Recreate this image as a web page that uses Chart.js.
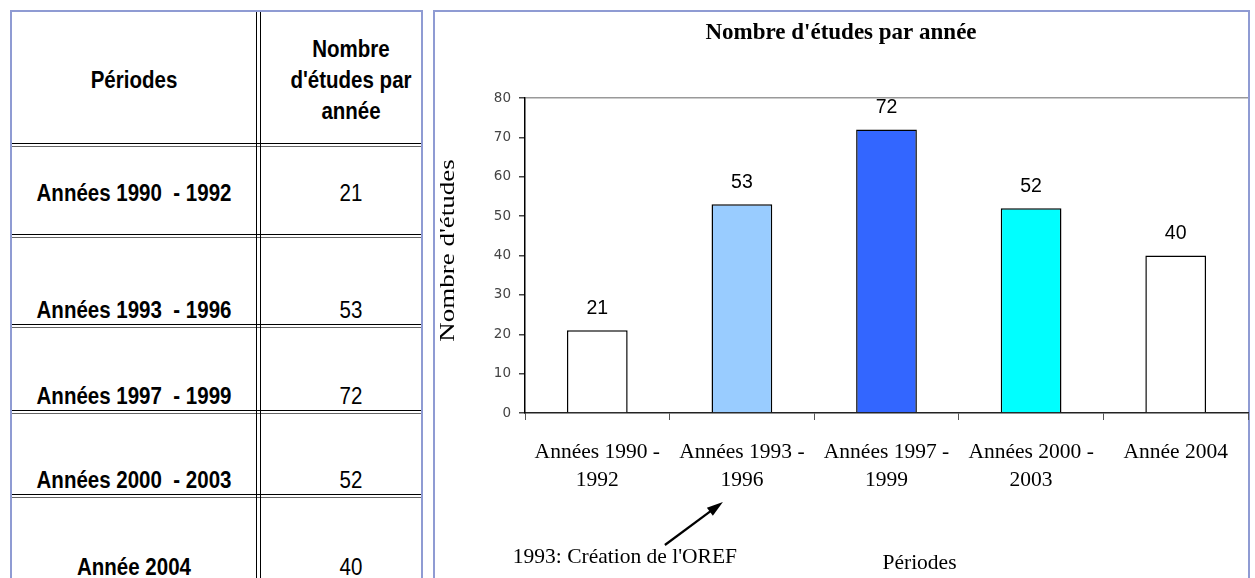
<!DOCTYPE html>
<html>
<head>
<meta charset="utf-8">
<script src="https://cdn.jsdelivr.net/npm/chart.js@4.4.0/dist/chart.umd.min.js"></script>
<style>
    html, body { margin: 0; padding: 0; background: #fff; width: 1255px; height: 578px; overflow: hidden; }
    .panel { position: absolute; box-sizing: border-box; border: 2px solid #8f9bd3; border-bottom: none; }
    #left { left: 10px; top: 10px; width: 413px; height: 580px; }
    #right { left: 433px; top: 10px; width: 817px; height: 580px; }
    .hsep { position: absolute; left: 12px; width: 409px; height: 4px; box-sizing: border-box;
            border-top: 1px solid #000; border-bottom: 1px solid #666; }
    .vsep { position: absolute; left: 256px; top: 12px; width: 5px; height: 570px; box-sizing: border-box;
            border-left: 1px solid #000; border-right: 1px solid #000; }
    .cell { position: absolute; text-align: center; color: #000; white-space: pre;
            font-family: "Liberation Sans", Arial, sans-serif;
            font-size: 20.5px; line-height: 24px; transform: scaleY(1.14); }
    .lab { left: 12px; width: 244px; font-weight: bold; }
    .val { left: 261px; width: 180px; }
    #chartBox { position: absolute; left: 434px; top: 12px; width: 836px; height: 566px; }
</style>
</head>
<body>
<div class="panel" id="left"></div>
<div class="panel" id="right"></div>
<div id="table"></div>
<div id="chartBox"><canvas id="barChart"></canvas></div>

<script>
// Data
const categories = [
    ["Années 1990 -", "1992"],
    ["Années 1993 -", "1996"],
    ["Années 1997 -", "1999"],
    ["Années 2000 -", "2003"],
    ["Année 2004"],
];
const tableLabels = [
    "Années 1990  - 1992",
    "Années 1993  - 1996",
    "Années 1997  - 1999",
    "Années 2000  - 2003",
    "Année 2004",
];
const studies = [21, 53, 72, 52, 40];
const barColors = ["#ffffff", "#99ccff", "#3366ff", "#00ffff", "#ffffff"];

const serif = '"Liberation Serif", "Times New Roman", serif';

// Left table (layout only)
const table = document.getElementById("table");
const sepTops = [143, 234, 324, 410, 494];
const textCenters = [193, 310, 396, 480, 567];

sepTops.forEach((top) => {
    const d = document.createElement("div");
    d.className = "hsep";
    d.style.top = top + "px";
    table.appendChild(d);
});
const vsep = document.createElement("div");
vsep.className = "vsep";
table.appendChild(vsep);

const head1 = document.createElement("div");
head1.className = "cell lab";
head1.style.top = "68px";
head1.textContent = "Périodes";
table.appendChild(head1);

const head2 = document.createElement("div");
head2.className = "cell val";
head2.style.top = "39px";
head2.style.lineHeight = "27px";
head2.style.fontWeight = "bold";
head2.textContent = "Nombre\nd'études par\nannée";
table.appendChild(head2);

tableLabels.forEach((label, i) => {
    const l = document.createElement("div");
    l.className = "cell lab";
    l.style.top = textCenters[i] - 12 + "px";
    l.textContent = label;
    table.appendChild(l);

    const v = document.createElement("div");
    v.className = "cell val";
    v.style.top = textCenters[i] - 12 + "px";
    v.textContent = String(studies[i]);
    table.appendChild(v);
});

// Value labels above the bars
const valueLabels = {
    id: "valueLabels",
    afterDatasetsDraw(chart) {
        const ctx = chart.ctx;
        const meta = chart.getDatasetMeta(0);
        ctx.save();
        ctx.font = '19.5px "Liberation Sans", Arial, sans-serif';
        ctx.fillStyle = "#000";
        ctx.textAlign = "center";
        ctx.textBaseline = "middle";
        meta.data.forEach((bar, i) => {
            ctx.fillText(String(studies[i]), bar.x, bar.y - 22);
        });
        ctx.restore();
    },
};

// y title, "Périodes" title + OREF annotation arrow
const annotations = {
    id: "annotations",
    afterDraw(chart) {
        const ctx = chart.ctx;
        const x = chart.scales.x;
        const area = chart.chartArea;
        ctx.save();
        ctx.fillStyle = "#000";
        ctx.textAlign = "center";
        ctx.textBaseline = "middle";

        // y axis title (stretched like the original)
        ctx.save();
        ctx.translate(15, (area.top + area.bottom) / 2 - 5);
        ctx.rotate(-Math.PI / 2);
        ctx.scale(1.35, 1);
        ctx.font = "20px " + serif;
        ctx.fillText("Nombre d'études", 0, 0);
        ctx.restore();

        ctx.font = "21.5px " + serif;
        ctx.fillText("Périodes", (area.left + area.right) / 2 + 33, x.top + 150);

        const cx = x.getPixelForValue(1);
        ctx.fillText("1993: Création de l'OREF", cx - 117, x.top + 144);

        // arrow
        const tail = { x: cx - 77, y: x.top + 132 };
        const tip = { x: cx - 19, y: x.top + 89 };
        const ang = Math.atan2(tip.y - tail.y, tip.x - tail.x);
        const headLen = 17;
        ctx.strokeStyle = "#000";
        ctx.lineWidth = 2.2;
        ctx.beginPath();
        ctx.moveTo(tail.x, tail.y);
        ctx.lineTo(tip.x - Math.cos(ang) * headLen * 0.8, tip.y - Math.sin(ang) * headLen * 0.8);
        ctx.stroke();
        ctx.beginPath();
        ctx.moveTo(tip.x, tip.y);
        ctx.lineTo(tip.x - headLen * Math.cos(ang - 0.3), tip.y - headLen * Math.sin(ang - 0.3));
        ctx.lineTo(tip.x - headLen * Math.cos(ang + 0.3), tip.y - headLen * Math.sin(ang + 0.3));
        ctx.closePath();
        ctx.fill();
        ctx.restore();
    },
};

const ctxBar = document.getElementById("barChart").getContext("2d");

new Chart(ctxBar, {
    type: "bar",
    data: {
        labels: categories,
        datasets: [
            {
                label: "Nombre d'études",
                data: studies,
                backgroundColor: barColors,
                borderColor: "#000",
                borderWidth: 1.5,
                barPercentage: 0.42,
                categoryPercentage: 1,
            },
        ],
    },
    options: {
        responsive: true,
        maintainAspectRatio: false,
        animation: false,
        layout: { padding: { left: 0, right: 22, top: 0, bottom: 0 } },
        plugins: {
            legend: { display: false },
            tooltip: { enabled: false },
            title: {
                display: true,
                text: "Nombre d'études par année",
                color: "#000",
                font: { family: serif, size: 23, weight: "bold", lineHeight: 1.2 },
                padding: { top: 7, bottom: 51.4 },
            },
        },
        scales: {
            x: {
                afterFit: (scale) => { scale.height = 165; },
                border: { color: "#222", width: 1.5 },
                grid: {
                    offset: true,
                    drawOnChartArea: false,
                    tickLength: 7,
                    tickColor: "#555",
                },
                ticks: {
                    color: "#000",
                    padding: 18,
                    maxRotation: 0,
                    autoSkip: false,
                    font: { family: serif, size: 21.5, lineHeight: 1.3 },
                },
            },
            y: {
                min: 0,
                max: 80,
                afterFit: (scale) => { scale.width = 91; },
                border: { color: "#000", width: 1.5 },
                grid: {
                    color: (c) => (c.tick && c.tick.value === 80 ? "#999" : "transparent"),
                    tickColor: "#444",
                    tickLength: 6,
                    lineWidth: 1.5,
                },
                ticks: {
                    stepSize: 10,
                    color: "#444",
                    padding: 8,
                    font: { family: '"DejaVu Sans", sans-serif', size: 13.5 },
                },
            },
        },
    },
    plugins: [valueLabels, annotations],
});
</script>
</body>
</html>
